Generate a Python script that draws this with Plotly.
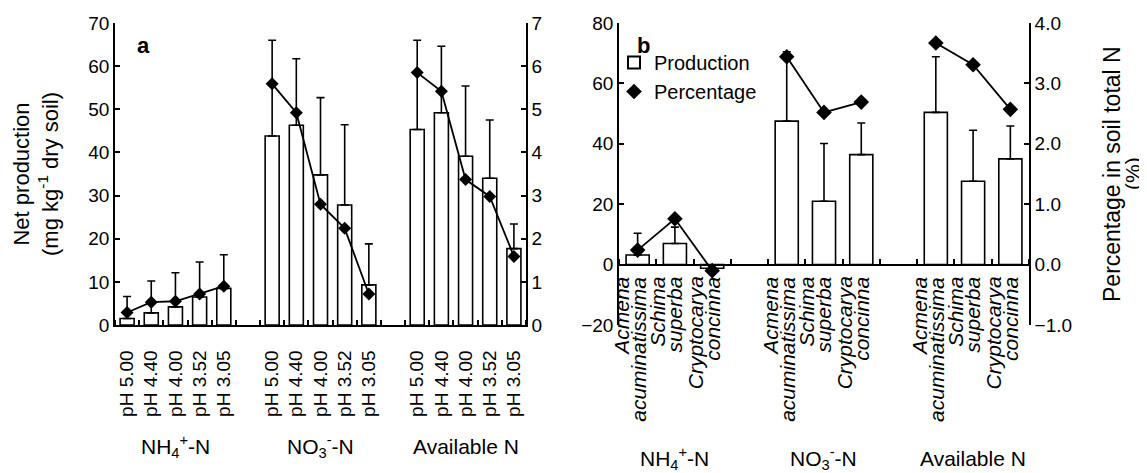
import plotly.graph_objects as go

W, H = 1147, 473          # browser window
OFF = 8                   # default body margin of the html page
FW, FH = W - OFF, H - OFF  # figure size so the page fits the window

# ---------------- data ----------------
ph_labels = ["pH 5.00", "pH 4.40", "pH 4.00", "pH 3.52", "pH 3.05"]
group_labels = ["NH<sub>4</sub><sup>+</sup>-N", "NO<sub>3</sub><sup>-</sup>-N", "Available N"]

# panel a: net production (mg/kg), upper error, percentage of soil total N (%)
a_prod = [[1.5, 2.8, 4.2, 6.5, 8.5],
          [43.8, 46.3, 34.8, 27.8, 9.3],
          [45.3, 49.2, 39.1, 34.0, 17.7]]
a_err = [[5.1, 7.4, 7.9, 8.1, 7.8],
         [22.2, 15.4, 17.9, 18.6, 9.5],
         [20.7, 15.4, 16.3, 13.5, 5.7]]
a_pct = [[0.29, 0.53, 0.55, 0.72, 0.90],
         [5.59, 4.92, 2.80, 2.24, 0.72],
         [5.85, 5.42, 3.37, 2.98, 1.59]]

# panel b: by tree species
species_genus = ["Acmena", "Schima", "Cryptocarya"]
species_epithet = ["acuminatissima", "superba", "concinna"]
b_prod = [[3.2, 7.0, -1.2],
          [47.5, 21.0, 36.4],
          [50.4, 27.6, 35.0]]
b_err = [[7.2, 5.4, 0.0],
         [23.0, 19.1, 10.5],
         [18.4, 16.9, 10.9]]
b_pct = [[0.24, 0.76, -0.10],
         [3.44, 2.52, 2.69],
         [3.67, 3.31, 2.57]]

FONT = "Liberation Sans, Arial, sans-serif"
TICK = 19


def px_x(px):
    return (px - OFF) / FW


def px_y(py):
    return 1 - (py - OFF) / FH


def positions(n_groups, n_items):
    return [[g * (n_items + 1) + i for i in range(n_items)] for g in range(n_groups)]


def flat(lst):
    return [v for sub in lst for v in sub]


def gapped(lst):
    out = []
    for sub in lst:
        out += list(sub) + [None]
    return out[:-1]


pa = positions(3, 5)
pb = positions(3, 3)

fig = go.Figure()

bar_style = dict(marker=dict(color="white", line=dict(color="black", width=1.6)))


def err(vals):
    return dict(type="data", symmetric=False, array=flat(vals),
                arrayminus=[0] * len(flat(vals)), color="black",
                thickness=1.6, width=4)


# panel a
fig.add_trace(go.Bar(x=flat(pa), y=flat(a_prod), width=0.58, error_y=err(a_err),
                     showlegend=False, xaxis="x", yaxis="y", **bar_style))
fig.add_trace(go.Scatter(x=gapped(pa), y=gapped(a_pct), mode="lines",
                         line=dict(color="black", width=1.8), showlegend=False,
                         xaxis="x", yaxis="y2"))
fig.add_trace(go.Scatter(x=flat(pa), y=flat(a_pct), mode="markers",
                         marker=dict(symbol="diamond", size=10, color="black"),
                         showlegend=False, xaxis="x", yaxis="y2"))

# panel b
fig.add_trace(go.Bar(x=flat(pb), y=flat(b_prod), width=0.62, error_y=err(b_err),
                     name="Production", legendgroup="prod", showlegend=True,
                     xaxis="x2", yaxis="y3", **bar_style))
fig.add_trace(go.Scatter(x=gapped(pb), y=gapped(b_pct), mode="lines",
                         line=dict(color="black", width=1.8), showlegend=False,
                         xaxis="x2", yaxis="y4"))
fig.add_trace(go.Scatter(x=flat(pb), y=flat(b_pct), mode="markers", name="Percentage",
                         legendgroup="pct",
                         marker=dict(symbol="diamond", size=12, color="black"),
                         showlegend=True, xaxis="x2", yaxis="y4"))

# ---------------- layout ----------------
ydom = [px_y(325), px_y(23)]
xa_dom = [px_x(115), px_x(526)]
xb_dom = [px_x(619), px_x(1029)]
b_range = [-20, 80]
zero_frac = ydom[0] + (0 - b_range[0]) / (b_range[1] - b_range[0]) * (ydom[1] - ydom[0])

axis_common = dict(showgrid=False, zeroline=False, showline=True, linecolor="black",
                   linewidth=1.6, tickcolor="black", tickwidth=1.6, automargin=False,
                   tickfont=dict(family=FONT, size=TICK, color="black"))

na = len(flat(pa)) + 2
nb = len(flat(pb)) + 2

fig.update_layout(
    width=FW, height=FH, margin=dict(l=0, r=0, t=0, b=0, autoexpand=False),
    paper_bgcolor="white", plot_bgcolor="white",
    font=dict(family=FONT, size=TICK, color="black"),
    barmode="overlay",
    xaxis=dict(domain=xa_dom, range=[-0.5, na - 0.5], anchor="y",
               tickmode="array", tickvals=flat(pa), ticktext=ph_labels * 3,
               tickangle=-90, ticks="", ticklabelstandoff=16,
               minor=dict(tickmode="array", tickvals=[k + 0.5 for k in range(-1, na)],
                          ticks="inside", ticklen=5, tickcolor="black", tickwidth=1.6),
               **axis_common),
    yaxis=dict(domain=ydom, range=[0, 70], dtick=10, anchor="x", ticks="inside",
               ticklen=5, **axis_common),
    yaxis2=dict(overlaying="y", side="right", anchor="x", range=[0, 7], dtick=1,
                ticks="inside", ticklen=5, **axis_common),
    xaxis2=dict(domain=xb_dom, range=[-0.5, nb - 0.5], anchor="free", position=zero_frac,
                tickmode="array", tickvals=flat(pb), showticklabels=False, ticks="",
                minor=dict(tickmode="array", tickvals=[k + 0.5 for k in range(-1, nb)],
                           ticks="inside", ticklen=5, tickcolor="black", tickwidth=1.6),
                **axis_common),
    yaxis3=dict(domain=ydom, range=b_range, dtick=20, anchor="x2", ticks="inside",
                ticklen=5, **axis_common),
    yaxis4=dict(overlaying="y3", side="right", anchor="x2", range=[-1, 4], dtick=1,
                tickformat=".1f", ticks="inside", ticklen=5, **axis_common),
    legend=dict(x=px_x(614), y=px_y(43), xanchor="left", yanchor="top",
                tracegroupgap=0, itemsizing="constant",
                bgcolor="rgba(0,0,0,0)", font=dict(family=FONT, size=20)),
)

ann = []


def text_ann(text, x, y, size, xref="paper", yref="paper", angle=0, **kw):
    d = dict(text=text, x=x, y=y, xref=xref, yref=yref, showarrow=False,
             textangle=angle, font=dict(family=FONT, size=size, color="black"))
    d.setdefault("xanchor", "center")
    d.setdefault("yanchor", "middle")
    d.update(kw)
    return d


# panel letters
ann.append(text_ann("<b>a</b>", px_x(143), px_y(45), 22))
ann.append(text_ann("<b>b</b>", px_x(643), px_y(45), 22))
# axis titles
ymid = (ydom[0] + ydom[1]) / 2
ann.append(text_ann("Net production<br>(mg kg<sup>-1</sup> dry soil)", px_x(36), ymid, 22,
                    angle=-90))
ann.append(text_ann("Percentage in soil total N", px_x(1112), ymid, 23, angle=-90))
ann.append(text_ann("(%)", px_x(1133), ymid, 21, angle=-90))
# group labels
for g, lab in enumerate(group_labels):
    ann.append(text_ann(lab, sum(pa[g]) / len(pa[g]), px_y(446), 21, xref="x"))
    ann.append(text_ann(lab, sum(pb[g]) / len(pb[g]), px_y(458), 21, xref="x2"))
# species labels (panel b), two lines hanging below the zero line
for g in range(3):
    for i in range(len(species_genus)):
        ann.append(text_ann("<i>" + species_genus[i] + "</i>", pb[g][i], zero_frac, 21,
                            xref="x2", angle=-90, yanchor="top", xshift=-17, yshift=-10))
        ann.append(text_ann("<i>" + species_epithet[i] + "</i>", pb[g][i], zero_frac, 21,
                            xref="x2", angle=-90, yanchor="top", yshift=-10))

fig.update_layout(annotations=ann)

fig.write_html("out.html")
